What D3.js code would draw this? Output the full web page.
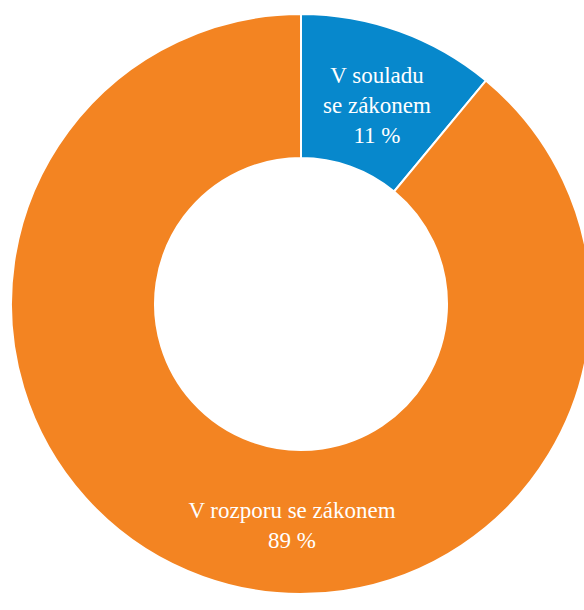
<!DOCTYPE html>
<html><head><meta charset="utf-8">
<script src="https://cdn.jsdelivr.net/npm/d3@7"></script>
<style>body{margin:0;background:#fff}svg{display:block}</style>
</head><body>
<script>
const categories = ["V souladu se zákonem", "V rozporu se zákonem"];
const values = [11, 89];
const labelLines = [["V souladu", "se zákonem", "11 %"], ["V rozporu se zákonem", "89 %"]];
const colors = ["#0788cc", "#f38422"];

const W = 584, H = 610;
const cx = 301, cy = 304, R = 290, r0 = 146;
const svg = d3.select("body").append("svg").attr("width", W).attr("height", H);
const g = svg.append("g").attr("transform", `translate(${cx},${cy})`);
const pie = d3.pie().sort(null).value(d => d)(values);
const arc = d3.arc().innerRadius(r0).outerRadius(R);
g.selectAll("path").data(pie).join("path")
  .attr("d", arc).attr("fill", (d, i) => colors[i])
  .attr("stroke", "#fff").attr("stroke-width", 2);

const labelPos = [[76, -221], [-9, 214]];
pie.forEach((d, i) => {
  const t = g.append("text").attr("text-anchor", "middle")
    .attr("font-family", "Liberation Serif, serif").attr("font-size", 23)
    .attr("fill", "#fff");
  labelLines[i].forEach((line, j) => {
    t.append("tspan").attr("x", labelPos[i][0]).attr("y", labelPos[i][1] + j * 30).text(line);
  });
});
</script>
</body></html>
